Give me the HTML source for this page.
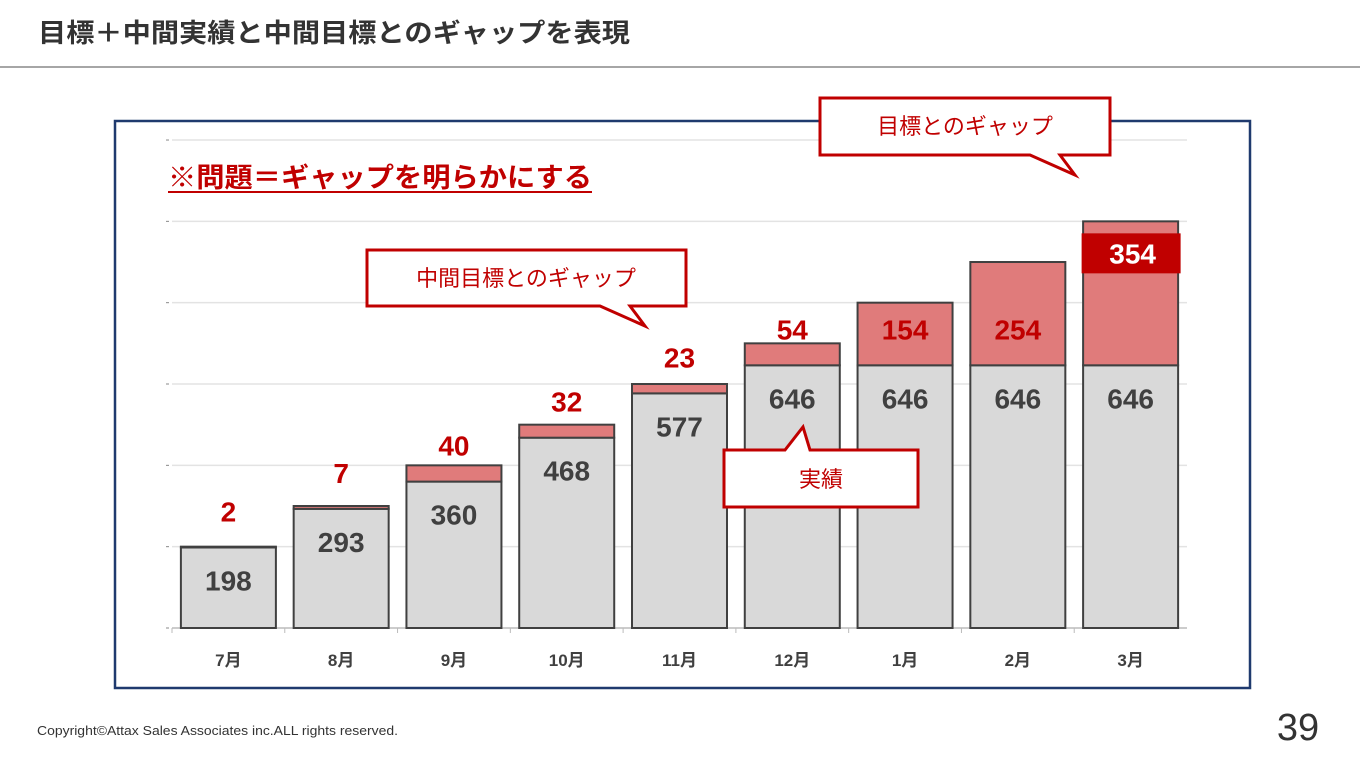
<!DOCTYPE html>
<html><head><meta charset="utf-8">
<style>
body{margin:0;width:1360px;height:766px;background:#fff;overflow:hidden;font-family:"Liberation Sans","Noto Sans CJK JP",sans-serif;}
</style></head>
<body>
<svg width="1360" height="766" xmlns="http://www.w3.org/2000/svg" style="position:absolute;left:0;top:0" font-family="Liberation Sans, Noto Sans CJK JP, sans-serif">
<text x="38" y="42" font-size="26" font-weight="bold" fill="#333" textLength="592" lengthAdjust="spacingAndGlyphs">目標＋中間実績と中間目標とのギャップを表現</text>
<line x1="0" y1="67" x2="1360" y2="67" stroke="#888" stroke-width="1.5"/>
<rect x="115" y="121" width="1135" height="567" fill="none" stroke="#1f3a6e" stroke-width="2.5"/>
<g id="grid"></g>
<g id="bars"></g>
<g id="labels"></g>
<text x="168" y="187" font-size="27" font-weight="bold" fill="#c00000" textLength="424" lengthAdjust="spacingAndGlyphs">※問題＝ギャップを明らかにする</text>
<line x1="168" y1="192" x2="592" y2="192" stroke="#c00000" stroke-width="2"/>
<g>
<path d="M820,98 H1110 V155 H1060 L1075,175 L1030,155 H820 Z" fill="#fff" stroke="#c00000" stroke-width="3"/>
<text x="965" y="134" font-size="22" fill="#c00000" text-anchor="middle">目標とのギャップ</text></g>
<g>
<path d="M367,250 H686 V306 H630 L645,326 L600,306 H367 Z" fill="#fff" stroke="#c00000" stroke-width="3"/>
<text x="526" y="286" font-size="22" fill="#c00000" text-anchor="middle">中間目標とのギャップ</text></g>
<g>
<path d="M724,450 H785 L803,427 L810,450 H918 V507 H724 Z" fill="#fff" stroke="#c00000" stroke-width="3"/>
<text x="821" y="487" font-size="22" fill="#c00000" text-anchor="middle">実績</text></g>
<text x="37" y="735" font-size="13" fill="#333" textLength="361" lengthAdjust="spacingAndGlyphs">Copyright©Attax Sales Associates inc.ALL rights reserved.</text>
<text x="1298" y="740" font-size="38" fill="#333" text-anchor="middle">39</text>
</svg>
<script>
const categories=["7月","8月","9月","10月","11月","12月","1月","2月","3月"];
const actual=[198,293,360,468,577,646,646,646,646];
const gap=[2,7,40,32,23,54,154,254,354];
const yTicks=[0,200,400,600,800,1000,1200];
const NS="http://www.w3.org/2000/svg";
const x0=172,x1=1187,base=628,pxPer=81.33/200;
const step=(x1-x0)/categories.length,bw=95;
const y=v=>base-v*pxPer;
const xc=i=>x0+step*(i+0.5);
function mk(tag,attrs,parent,text){const e=document.createElementNS(NS,tag);for(const k in attrs)e.setAttribute(k,attrs[k]);if(text!=null)e.textContent=text;parent.appendChild(e);return e;}
const grid=document.getElementById('grid'),bars=document.getElementById('bars'),labels=document.getElementById('labels');
yTicks.forEach(t=>{const l=mk('line',{x1:x0,x2:x1,y1:y(t),y2:y(t),stroke:t===0?'#bbb':'#e3e3e3','stroke-width':1.5},grid);


const tk=mk('line',{x1:166,x2:169,y1:y(t),y2:y(t),stroke:'#888'},grid);

});
categories.forEach((c,i)=>{
const cx=xc(i),top=y(actual[i]+gap[i]),mid=y(actual[i]);
const tk=mk('line',{x1:x0+step*i,x2:x0+step*i,y1:base,y2:base+5,stroke:'#bbb'},grid);


const a=mk('rect',{x:cx-bw/2,y:mid,width:bw,height:base-mid,fill:'#d9d9d9',stroke:'#404040','stroke-width':2},bars);


const g=mk('rect',{x:cx-bw/2,y:top,width:bw,height:mid-top,fill:'#e07b7b',stroke:'#404040','stroke-width':2},bars);


const at=mk('text',{x:cx,y:mid+43,'font-size':28,'font-weight':'bold',fill:'#404040','text-anchor':'middle'},labels,actual[i]);


let gt;
if(i===categories.length-1){
const bx=mk('rect',{x:cx-49,y:top+12,width:99,height:40,fill:'#c00000'},labels);


gt=mk('text',{x:cx+2,y:top+42,'font-size':28,'font-weight':'bold',fill:'#fff','text-anchor':'middle'},labels,gap[i]);
}else{
gt=mk('text',{x:cx,y:mid-26,'font-size':28,'font-weight':'bold',fill:'#c00000','text-anchor':'middle'},labels,gap[i]);
}


const xl=mk('text',{x:cx,y:666,'font-size':17,'font-weight':'bold',fill:'#404040','text-anchor':'middle'},labels,c);


});
</script>
</body></html>
